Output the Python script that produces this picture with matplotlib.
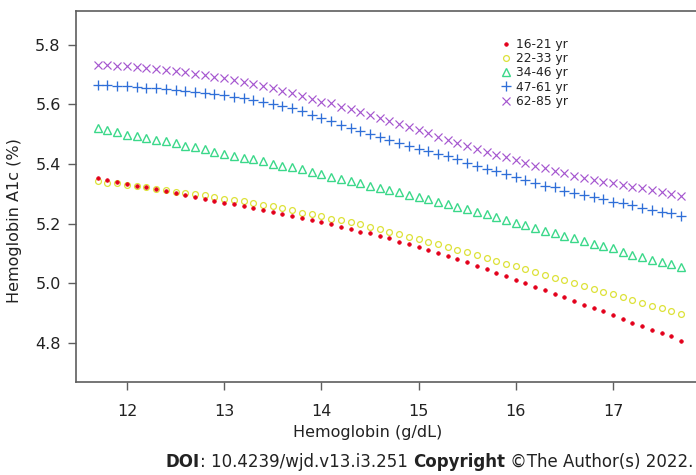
import numpy as np
import matplotlib
matplotlib.use("Agg")
import matplotlib.pyplot as plt
from matplotlib.offsetbox import TextArea, HPacker, AnchoredOffsetbox

plt.rcParams['font.family'] = ['DejaVu Sans']

# Hemoglobin grid (g/dL)
hgb = np.round(np.arange(11.7, 17.71, 0.1), 1)

age_groups = ["16-21 yr", "22-33 yr", "34-46 yr", "47-61 yr", "62-85 yr"]

a1c_16_21 = [5.354, 5.346, 5.340, 5.334, 5.327, 5.322, 5.315, 5.309, 5.303, 5.297,
             5.290, 5.283, 5.277, 5.270, 5.265, 5.259, 5.252, 5.246, 5.239, 5.233,
             5.226, 5.219, 5.212, 5.206, 5.197, 5.189, 5.182, 5.173, 5.167, 5.159,
             5.150, 5.139, 5.130, 5.122, 5.111, 5.102, 5.092, 5.081, 5.070, 5.057,
             5.046, 5.034, 5.023, 5.010, 4.999, 4.988, 4.976, 4.963, 4.952, 4.941,
             4.928, 4.917, 4.905, 4.893, 4.881, 4.867, 4.856, 4.844, 4.831, 4.821,
             4.805]
a1c_22_33 = [5.343, 5.337, 5.335, 5.331, 5.325, 5.322, 5.315, 5.312, 5.307, 5.303,
             5.298, 5.296, 5.290, 5.283, 5.280, 5.275, 5.269, 5.263, 5.259, 5.251,
             5.246, 5.237, 5.232, 5.226, 5.217, 5.212, 5.204, 5.197, 5.189, 5.181,
             5.173, 5.165, 5.156, 5.148, 5.139, 5.130, 5.122, 5.112, 5.103, 5.094,
             5.085, 5.074, 5.065, 5.057, 5.047, 5.039, 5.027, 5.018, 5.010, 5.001,
             4.992, 4.981, 4.971, 4.963, 4.952, 4.943, 4.934, 4.924, 4.916, 4.908,
             4.895]
a1c_34_46 = [5.520, 5.513, 5.508, 5.499, 5.493, 5.488, 5.481, 5.477, 5.470, 5.462,
             5.456, 5.450, 5.441, 5.435, 5.428, 5.421, 5.416, 5.409, 5.401, 5.394,
             5.389, 5.382, 5.374, 5.365, 5.358, 5.350, 5.343, 5.335, 5.327, 5.320,
             5.313, 5.305, 5.297, 5.290, 5.281, 5.273, 5.265, 5.255, 5.248, 5.239,
             5.231, 5.221, 5.212, 5.203, 5.195, 5.186, 5.176, 5.169, 5.160, 5.150,
             5.142, 5.133, 5.124, 5.118, 5.106, 5.096, 5.089, 5.079, 5.072, 5.063,
             5.053]
a1c_47_61 = [5.666, 5.665, 5.662, 5.661, 5.659, 5.656, 5.655, 5.652, 5.649, 5.645,
             5.642, 5.639, 5.635, 5.632, 5.626, 5.621, 5.615, 5.608, 5.602, 5.595,
             5.587, 5.579, 5.566, 5.553, 5.544, 5.530, 5.522, 5.512, 5.502, 5.492,
             5.481, 5.472, 5.462, 5.451, 5.443, 5.434, 5.427, 5.416, 5.404, 5.394,
             5.385, 5.375, 5.366, 5.356, 5.347, 5.335, 5.327, 5.322, 5.310, 5.302,
             5.296, 5.290, 5.282, 5.273, 5.268, 5.262, 5.254, 5.245, 5.240, 5.234,
             5.226]
a1c_62_85 = [5.733, 5.732, 5.730, 5.729, 5.727, 5.724, 5.720, 5.716, 5.712, 5.708,
             5.704, 5.699, 5.693, 5.688, 5.682, 5.677, 5.670, 5.662, 5.654, 5.646,
             5.638, 5.629, 5.619, 5.610, 5.604, 5.593, 5.584, 5.574, 5.565, 5.555,
             5.545, 5.534, 5.524, 5.514, 5.503, 5.492, 5.481, 5.472, 5.462, 5.452,
             5.442, 5.432, 5.422, 5.413, 5.403, 5.394, 5.386, 5.377, 5.369, 5.361,
             5.353, 5.346, 5.341, 5.335, 5.330, 5.324, 5.318, 5.313, 5.306, 5.301,
             5.293]

x_ticks = [12, 13, 14, 15, 16, 17]
y_ticks = [4.8, 5.0, 5.2, 5.4, 5.6, 5.8]

series = [a1c_16_21, a1c_22_33, a1c_34_46, a1c_47_61, a1c_62_85]
styles = [
    dict(marker='o', ms=2.6, mfc='#e3001b', mec='#e3001b', mew=0.5),
    dict(marker='o', ms=4.2, mfc='none', mec='#dde23a', mew=0.9),
    dict(marker='^', ms=6.0, mfc='none', mec='#3bd88a', mew=1.0),
    dict(marker='+', ms=7.5, mec='#2f6fd8', mew=0.95),
    dict(marker='x', ms=5.5, mec='#a557cf', mew=0.85),
]
zorders = [4, 3, 3, 3, 3]

fig = plt.figure(figsize=(6.96, 4.75), dpi=100)
ax = fig.add_axes([76 / 696, 1 - 382 / 475, 1 - 76 / 696, (382 - 11) / 475])

handles = []
for vals, lab, st, z in zip(series, age_groups, styles, zorders):
    h, = ax.plot(hgb, vals, linestyle='none', label=lab, zorder=z, **st)
    handles.append(h)

ax.set_xlim(11.476, 17.854)
ax.set_ylim(4.668, 5.914)
ax.set_xticks(x_ticks)
ax.set_xticklabels([str(t) for t in x_ticks])
ax.set_yticks(y_ticks)
ax.set_yticklabels([f"{t:.1f}" for t in y_ticks])

spine_c = '#5e5e5e'
for side in ['left', 'bottom', 'top']:
    ax.spines[side].set_color(spine_c)
    ax.spines[side].set_linewidth(1.2)
ax.spines['right'].set_visible(False)

ax.tick_params(axis='both', direction='out', color=spine_c, width=1.0,
               labelcolor='#222222', labelsize=11.5)
ax.tick_params(axis='x', length=6, pad=10)
ax.tick_params(axis='y', length=6, pad=5)

fig.text(368 / 696, 1 - 432 / 475, "Hemoglobin (g/dL)", ha='center', va='center',
         fontsize=11.5, color='#222222')
fig.text(15 / 696, 1 - 221 / 475, "Hemoglobin A1c (%)", ha='center', va='center',
         rotation=90, fontsize=11.5, color='#222222')

leg = ax.legend(handles=handles, loc='upper left', bbox_to_anchor=(501 / 696, 1 - 38 / 475),
                bbox_transform=fig.transFigure, frameon=False, fontsize=8.8,
                handlelength=0.8, handletextpad=0.45, labelspacing=0.1,
                borderpad=0, borderaxespad=0)
for t in leg.get_texts():
    t.set_color('#222222')

txt_kw = dict(fontsize=12, color='#222222')
parts = [
    TextArea("DOI", textprops=dict(fontweight='bold', **txt_kw)),
    TextArea(": 10.4239/wjd.v13.i3.251 ", textprops=txt_kw),
    TextArea("Copyright", textprops=dict(fontweight='bold', **txt_kw)),
    TextArea(" \u00a9The Author(s) 2022.", textprops=txt_kw),
]
box = HPacker(children=parts, align='baseline', pad=0, sep=0)
anch = AnchoredOffsetbox(loc='lower right', child=box, pad=0, borderpad=0, frameon=False,
                         bbox_to_anchor=(693 / 696, 1 - 471 / 475),
                         bbox_transform=fig.transFigure)
fig.add_artist(anch)

fig.savefig("out.png", dpi=100)
